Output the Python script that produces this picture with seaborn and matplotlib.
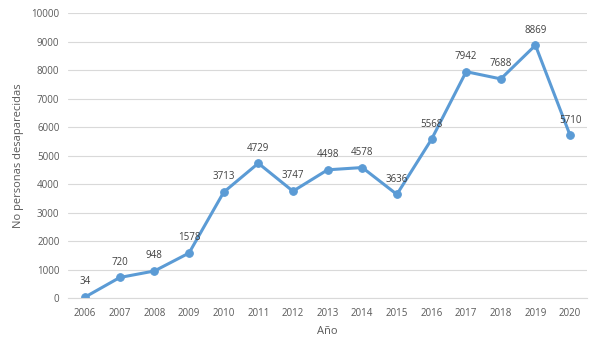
import matplotlib
matplotlib.use("Agg")
import matplotlib.pyplot as plt
import seaborn as sns
import pandas as pd

years = ["2006", "2007", "2008", "2009", "2010", "2011", "2012", "2013",
         "2014", "2015", "2016", "2017", "2018", "2019", "2020"]
values = [34, 720, 948, 1578, 3713, 4729, 3747, 4498, 4578, 3636, 5568,
          7942, 7688, 8869, 5710]
yticks = list(range(0, 10001, 1000))

df = pd.DataFrame({"Año": years, "N": values})

sns.set_theme(style="white")
plt.rcParams["font.family"] = ["Open Sans", "DejaVu Sans"]
txt = "#595959"
color = "#5B9BD5"

fig = plt.figure(figsize=(6.0, 3.52), dpi=100)
ax = fig.add_axes([0.113, 0.1534, 0.866, 0.8096])

sns.lineplot(data=df, x="Año", y="N", ax=ax, color=color, linewidth=2.2,
             marker="o", markersize=5.5, markeredgecolor=color, sort=False)

for i, (y, v) in enumerate(zip(years, values)):
    ax.annotate(str(v), (i, v), xytext=(0, 7), textcoords="offset points",
                ha="center", va="bottom", fontsize=7, color="#404040")

ax.set_xlim(-0.5, len(years) - 0.5)
ax.set_ylim(0, 10000)
ax.set_yticks(yticks)
ax.set_yticklabels([str(t) for t in yticks])
ax.yaxis.grid(True, color="#d9d9d9", linewidth=0.8)
ax.set_axisbelow(True)
for s in ["top", "right", "left"]:
    ax.spines[s].set_visible(False)
ax.spines["bottom"].set_color("#d9d9d9")
ax.spines["bottom"].set_linewidth(0.8)
ax.tick_params(axis="y", length=0, labelsize=7, colors=txt, pad=6)
ax.tick_params(axis="x", length=0, labelsize=7, colors=txt, pad=7)
ax.set_xlabel("Año", fontsize=8, color=txt, labelpad=5)
ax.set_ylabel("No personas desaparecidas", fontsize=8, color=txt, labelpad=5)

fig.savefig("out.png", dpi=100, facecolor="white")
